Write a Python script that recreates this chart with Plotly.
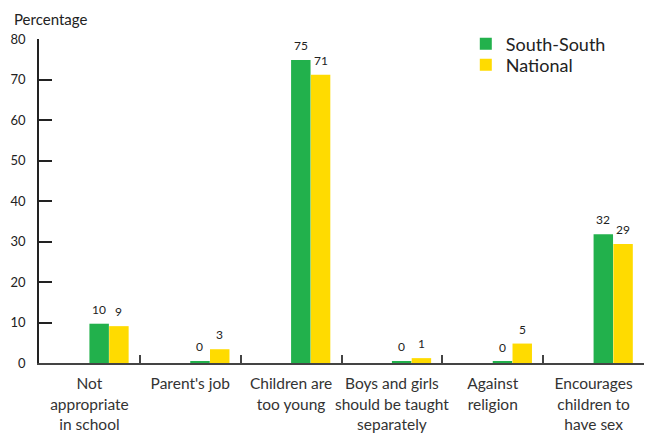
import plotly.graph_objects as go

# Reasons given against sex education in schools (percent of respondents)
categories = [
    "Not<br>appropriate<br>in school",
    "Parent's job",
    "Children are<br>too young",
    "Boys and girls<br>should be taught<br>separately",
    "Against<br>religion",
    "Encourages<br>children to<br>have sex",
]
south_south = [9.7, 0.4, 74.8, 0.4, 0.3, 31.8]
national = [9.1, 3.4, 71.2, 1.2, 4.8, 29.4]
y_ticks = [0, 10, 20, 30, 40, 50, 60, 70, 80]

GREEN = "#22b14c"
YELLOW = "#ffdb00"
FONT = "Lato"
TEXT = "#222222"

# plot-area geometry in pixels
W, H = 654, 436
M_L, M_R, M_T, M_B = 38.5, 9.5, 38.5, 73
PW, PH = W - M_L - M_R, H - M_T - M_B


def px_x(x):
    return (x - M_L) / PW


def px_y(y):
    return 1 + (M_T - y) / PH


BAR_W = 0.193
series = [
    ("South-South", south_south, GREEN, 0.0, "legend"),
    ("National", national, YELLOW, 0.196, "legend2"),
]

fig = go.Figure()
for name, vals, color, off, leg in series:
    fig.add_trace(go.Bar(
        name=name, x=categories, y=vals,
        marker=dict(color=color, line=dict(width=0)),
        width=BAR_W, offset=off, legend=leg,
    ))

# value labels above each bar
annotations = []
for name, vals, color, off, leg in series:
    for i, v in enumerate(vals):
        annotations.append(dict(
            x=i + off + BAR_W / 2, y=v, xref="x", yref="y",
            text=f"{v:.0f}", showarrow=False, yanchor="bottom", yshift=5,
            font=dict(family=FONT, size=12, color=TEXT),
        ))
annotations.append(dict(
    x=px_x(11), y=px_y(18), xref="paper", yref="paper",
    text="Percentage", showarrow=False, xanchor="left", yanchor="middle",
    font=dict(family=FONT, size=15, color=TEXT),
))

legend_style = dict(
    xanchor="left", yanchor="top",
    font=dict(family=FONT, size=18, color=TEXT),
    bgcolor="rgba(0,0,0,0)", itemwidth=30,
)

fig.update_layout(
    width=W, height=H,
    margin=dict(l=M_L, r=M_R, t=M_T, b=M_B, pad=0, autoexpand=False),
    paper_bgcolor="white", plot_bgcolor="white",
    barmode="overlay",
    showlegend=True,
    legend=dict(x=px_x(466), y=px_y(25), **legend_style),
    legend2=dict(x=px_x(466), y=px_y(46), **legend_style),
    font=dict(family=FONT, color=TEXT),
    annotations=annotations,
)

fig.update_xaxes(
    type="category", range=[-0.5, 5.5], automargin=False, tickangle=0,
    showline=True, linecolor="#444444", linewidth=1.5,
    ticks="inside", tickson="boundaries", ticklen=8, tickwidth=1.5,
    tickcolor="#444444", showgrid=False, zeroline=False,
    ticklabelstandoff=6,
    tickfont=dict(family=FONT, size=15.5, color="#333333"),
)
fig.update_yaxes(
    range=[0, 80], tickvals=y_ticks, automargin=False,
    showline=True, linecolor="#222222", linewidth=1.5,
    ticks="inside", ticklen=13, tickwidth=1.5, tickcolor="#222222",
    showgrid=False, zeroline=False, ticklabelstandoff=9,
    tickfont=dict(family=FONT, size=13, color=TEXT),
)

fig.write_html("out.html")
